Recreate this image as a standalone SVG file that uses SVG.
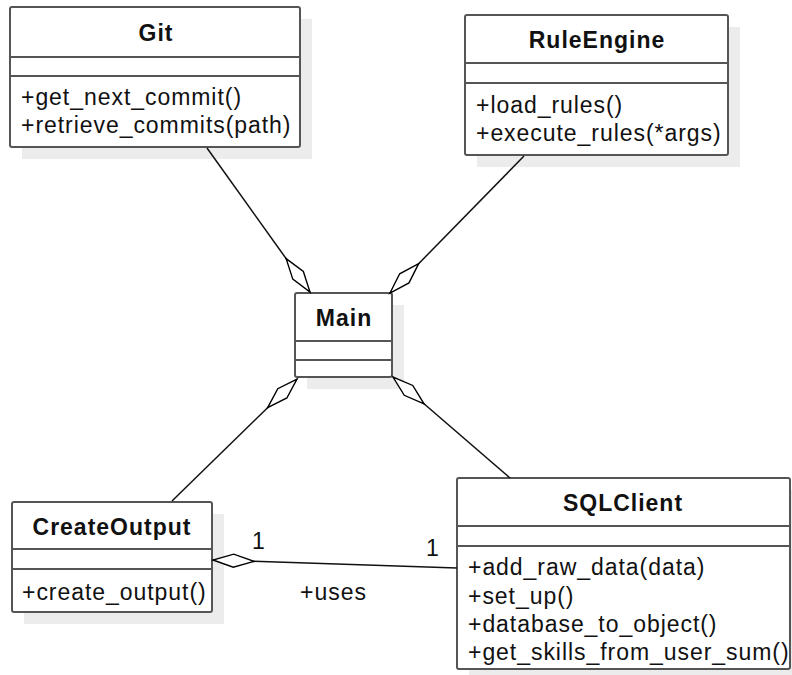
<svg xmlns="http://www.w3.org/2000/svg" width="792" height="675" viewBox="0 0 792 675">
<defs>
<marker id="diamond" markerUnits="userSpaceOnUse" markerWidth="44" markerHeight="18" refX="41" refY="8" orient="auto" overflow="visible">
<path d="M0,8 L20.5,1.5 L41,8 L20.5,14.5 Z" fill="#fff" stroke="#000" stroke-width="1.4"/>
</marker>
</defs>
<style>
.bg{fill:#fff}
.shadow{fill:#ececec}
.box{fill:#fff;stroke:#555;stroke-width:2}
.sep{stroke:#555;stroke-width:2}
.title{font-family:"Liberation Sans",Arial,sans-serif;font-weight:bold;font-size:23px;letter-spacing:1px;fill:#111;text-anchor:middle}
.m{font-family:"Liberation Sans",Arial,sans-serif;font-size:23px;letter-spacing:0.95px;fill:#111}
.lbl{font-family:"Liberation Sans",Arial,sans-serif;font-size:23px;letter-spacing:1px;fill:#111}
.conn{fill:none;stroke:#111;stroke-width:1.5;marker-end:url(#diamond)}
</style>
<rect class="bg" x="0" y="0" width="792" height="675"/>

<g id="Git">
<rect class="shadow" x="22" y="19" width="290" height="140"/>
<rect class="box" x="10" y="7" width="290" height="140" rx="2"/>
<line class="sep" x1="10" y1="57" x2="300" y2="57"/>
<line class="sep" x1="10" y1="76" x2="300" y2="76"/>
<text class="title" x="156" y="41">Git</text>
<text class="m" x="21" y="105">+get_next_commit()</text>
<text class="m" x="21" y="133">+retrieve_commits(path)</text>
</g>

<g id="RuleEngine">
<rect class="shadow" x="477" y="27" width="263" height="140"/>
<rect class="box" x="465" y="15" width="263" height="140" rx="2"/>
<line class="sep" x1="465" y1="63" x2="728" y2="63"/>
<line class="sep" x1="465" y1="83" x2="728" y2="83"/>
<text class="title" x="597" y="48">RuleEngine</text>
<text class="m" x="476" y="113">+load_rules()</text>
<text class="m" x="476" y="141">+execute_rules(*args)</text>
</g>

<g id="Main">
<rect class="shadow" x="307" y="305" width="97" height="84"/>
<rect class="box" x="295" y="293" width="97" height="84" rx="2"/>
<line class="sep" x1="295" y1="341" x2="392" y2="341"/>
<line class="sep" x1="295" y1="360" x2="392" y2="360"/>
<text class="title" x="344" y="326">Main</text>
</g>

<g id="CreateOutput">
<rect class="shadow" x="24" y="514" width="200" height="110"/>
<rect class="box" x="12" y="502" width="200" height="110" rx="2"/>
<line class="sep" x1="12" y1="549" x2="212" y2="549"/>
<line class="sep" x1="12" y1="569" x2="212" y2="569"/>
<text class="title" x="112" y="535">CreateOutput</text>
<text class="m" x="22" y="600">+create_output()</text>
</g>

<g id="SQLClient">
<rect class="shadow" x="469" y="490" width="333" height="191"/>
<rect class="box" x="457" y="478" width="333" height="191" rx="2"/>
<line class="sep" x1="457" y1="526" x2="790" y2="526"/>
<line class="sep" x1="457" y1="546" x2="790" y2="546"/>
<text class="title" x="623" y="511">SQLClient</text>
<text class="m" x="468" y="575">+add_raw_data(data)</text>
<text class="m" x="468" y="604">+set_up()</text>
<text class="m" x="468" y="632">+database_to_object()</text>
<text class="m" x="468" y="660">+get_skills_from_user_sum()</text>
</g>

<g id="connectors">
<path class="conn" d="M207,148 L310,292"/>
<path class="conn" d="M524,156 L390,293"/>
<path class="conn" d="M172,501 L297,379"/>
<path class="conn" d="M510,478 L393,377"/>
<path class="conn" d="M457,568 L213,560"/>
<text class="lbl" x="252" y="549">1</text>
<text class="lbl" x="426" y="556">1</text>
<text class="lbl" x="300" y="600">+uses</text>
</g>
</svg>
